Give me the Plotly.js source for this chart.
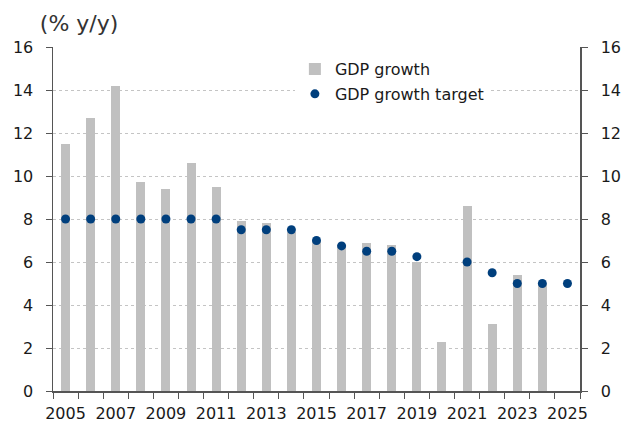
<!DOCTYPE html>
<html>
<head>
<meta charset="utf-8">
<script src="https://cdn.plot.ly/plotly-3.0.1.min.js"></script>
<style>html,body{margin:0;padding:0;background:#fff;}#chart{width:632px;height:423px;}</style>
</head>
<body>
<div id="chart"></div>
<script>
const growthYears = [2005,2006,2007,2008,2009,2010,2011,2012,2013,2014,2015,2016,2017,2018,2019,2020,2021,2022,2023,2024];
const growthValues = [11.5,12.7,14.2,9.7,9.4,10.6,9.5,7.9,7.8,7.4,7.0,6.8,6.9,6.8,6.0,2.3,8.6,3.1,5.4,5.0];
const targetYears = [2005,2006,2007,2008,2009,2010,2011,2012,2013,2014,2015,2016,2017,2018,2019,2021,2022,2023,2024,2025];
const targetValues = [8,8,8,8,8,8,8,7.5,7.5,7.5,7.0,6.75,6.5,6.5,6.25,6.0,5.5,5.0,5.0,5.0];
const xTickVals = [2005,2007,2009,2011,2013,2015,2017,2019,2021,2023,2025];
const yTickVals = [0,2,4,6,8,10,12,14,16];

const font = 'DejaVu Sans, sans-serif';
const axisColor = '#555555';
const textColor = '#1a1a1a';

const traces = [
  {
    type: 'bar', x: growthYears, y: growthValues, name: 'GDP growth',
    width: 0.36, marker: {color: '#c0c0c0', line: {width: 0}},
    legendgroup: 'a', hoverinfo: 'skip'
  },
  {
    type: 'scatter', mode: 'markers', x: targetYears, y: targetValues, name: 'GDP growth target',
    marker: {color: '#003f7d', size: 9, line: {width: 0}},
    legendgroup: 'b', hoverinfo: 'skip'
  },
  {
    type: 'scatter', mode: 'markers', x: [targetYears[0]], y: [targetValues[0]], yaxis: 'y2',
    marker: {opacity: 0}, showlegend: false, hoverinfo: 'skip'
  }
];

const layout = {
  width: 632, height: 423,
  margin: {l: 53, r: 52, t: 47, b: 32, pad: 0},
  paper_bgcolor: '#ffffff', plot_bgcolor: '#ffffff',
  font: {family: font, size: 16, color: textColor},
  showlegend: true,
  title: {
    text: '(% y/y)', x: 0.063, xanchor: 'left', xref: 'container',
    y: 0.945, yanchor: 'middle', yref: 'container',
    font: {family: font, size: 22, color: '#333333'}
  },
  legend: {
    x: 0.459, xanchor: 'left', y: 0.985, yanchor: 'top',
    bgcolor: 'rgba(255,255,255,1)', borderwidth: 0,
    font: {family: font, size: 16, color: textColor},
    tracegroupgap: 1, itemwidth: 30
  },
  bargap: 0,
  xaxis: {
    type: 'linear', range: [2004.5, 2025.5],
    tickmode: 'array', tickvals: xTickVals, ticktext: xTickVals.map(String),
    ticks: '', showgrid: false, zeroline: false,
    showline: true, linecolor: axisColor, linewidth: 1.5,
    tickfont: {family: font, size: 16, color: textColor},
    ticklabelstandoff: 7,
    minor: {tickmode: 'linear', tick0: 2004.5, dtick: 1, ticks: 'outside', ticklen: 6, tickcolor: axisColor, tickwidth: 1, showgrid: false}
  },
  yaxis: {
    range: [0, 16], tickmode: 'array', tickvals: yTickVals,
    ticks: 'outside', ticklen: 6, tickcolor: axisColor, tickwidth: 1,
    showline: true, linecolor: axisColor, linewidth: 1.5,
    showgrid: true, gridcolor: '#c4c4c4', griddash: 'dot', gridwidth: 1,
    zeroline: false, ticklabelstandoff: 9,
    tickfont: {family: font, size: 16, color: textColor}
  },
  yaxis2: {
    range: [0, 16], overlaying: 'y', side: 'right', tickmode: 'array', tickvals: yTickVals,
    ticks: 'outside', ticklen: 6, tickcolor: axisColor, tickwidth: 1,
    showline: true, linecolor: axisColor, linewidth: 1.5,
    showgrid: false, zeroline: false, ticklabelstandoff: 10,
    tickfont: {family: font, size: 16, color: textColor}
  }
};

Plotly.newPlot('chart', traces, layout, {staticPlot: true, displayModeBar: false});
</script>
</body>
</html>
